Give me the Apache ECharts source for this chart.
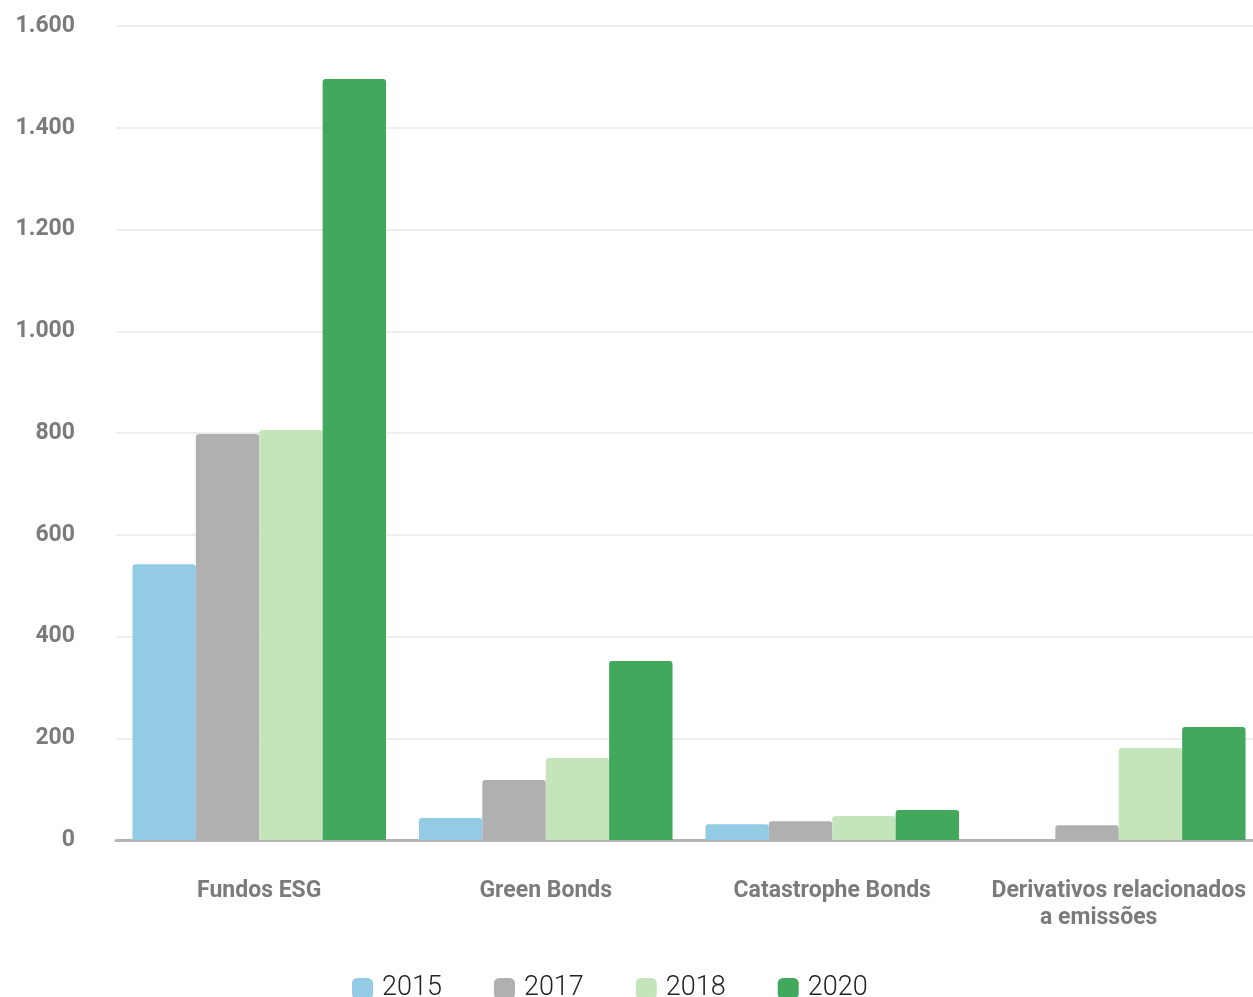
<!DOCTYPE html>
<html><head><meta charset="utf-8">
<script src="https://cdn.jsdelivr.net/npm/echarts@6/dist/echarts.min.js"></script>
<style>html,body{margin:0;padding:0;background:#fff}#c{width:1253px;height:997px}</style>
</head><body><div id="c"></div>
<script>
const categories = ['Fundos ESG', 'Green Bonds', 'Catastrophe Bonds', 'Derivativos relacionados\na emissões\u00a0\u00a0\u00a0\u00a0\u00a0\u00a0\u00a0'];
const years = ['2015', '2017', '2018', '2020'];
const v2015 = [542, 43, 31, null];
const v2017 = [798, 118, 37, 29];
const v2018 = [806, 161, 47, 181];
const v2020 = [1496, 352, 59, 222];
const colors = ['#93cae4', '#b0b0b0', '#c4e4bb', '#42a85c'];
const seriesValues = [v2015, v2017, v2018, v2020];

const chart = echarts.init(document.getElementById('c'));
chart.setOption({
  animation: false,
  textStyle: { fontFamily: 'Roboto' },
  grid: { left: 116, width: 1146, top: 26, bottom: 157, containLabel: false, outerBoundsMode: 'none' },
  legend: {
    top: 970, left: 347,
    itemWidth: 21, itemHeight: 21, itemGap: 52,
    icon: 'roundRect',
    textStyle: { fontSize: 27, fontWeight: 300, color: '#222', fontFamily: 'Roboto', padding: [0, 0, 0, 4] },
    data: years
  },
  xAxis: {
    type: 'category', data: categories,
    axisLine: { lineStyle: { color: '#b3b3b3', width: 3 } },
    axisTick: { show: false },
    axisLabel: { fontSize: 23, fontWeight: 'bold', color: '#7b7b7b', margin: 38, lineHeight: 27, interval: 0 }
  },
  yAxis: {
    type: 'value', min: 0, max: 1600, interval: 200,
    axisLine: { show: false }, axisTick: { show: false },
    splitLine: { lineStyle: { color: '#e8e8e8', width: 1.5 } },
    axisLabel: {
      fontSize: 23, fontWeight: 'bold', color: '#7b7b7b', margin: 41,
      formatter: v => v.toString().replace(/\B(?=(\d{3})+(?!\d))/g, '.')
    }
  },
  series: years.map((y, i) => ({
    name: y, type: 'bar', data: seriesValues[i],
    barGap: '0%', barCategoryGap: '11.5%',
    itemStyle: { color: colors[i], borderRadius: [3, 3, 0, 0] }
  }))
});
</script></body></html>
